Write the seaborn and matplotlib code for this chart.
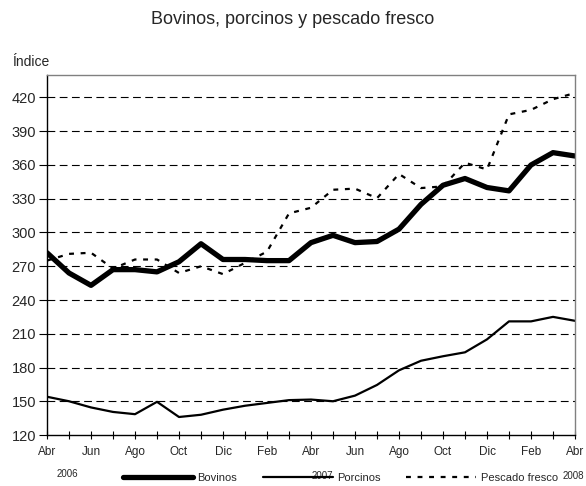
import matplotlib
matplotlib.use("Agg")
import matplotlib.pyplot as plt
import seaborn as sns
import pandas as pd
import numpy as np

months = ["Abr", "May", "Jun", "Jul", "Ago", "Sep", "Oct", "Nov", "Dic", "Ene", "Feb", "Mar",
          "Abr", "May", "Jun", "Jul", "Ago", "Sep", "Oct", "Nov", "Dic", "Ene", "Feb", "Mar", "Abr"]
tick_labels = ["Abr", "Jun", "Ago", "Oct", "Dic", "Feb", "Abr", "Jun", "Ago", "Oct", "Dic", "Feb", "Abr"]
years = ["2006", "2007", "2008"]

bovinos = [282, 264, 253, 267, 267, 265, 274, 290, 276, 276, 275, 275,
           291, 297.5, 291, 292, 303, 325, 342, 348, 340, 337, 360, 371, 368]
porcinos = [154, 150, 144.5, 140.5, 138.5, 149.5, 136, 138, 142.5, 146, 148.5, 151,
            151.5, 150, 155, 164.5, 177.5, 186, 190, 193.5, 205, 221, 221, 225, 221.5]
pescado = [275, 281, 282, 268, 276, 276, 264, 270, 263, 273, 283, 317,
           322, 338, 339, 330.5, 352, 339.5, 341, 362, 356, 405, 409, 418.5, 424]

series_names = ["Bovinos", "Porcinos", "Pescado fresco"]

df = pd.DataFrame({
    "t": list(range(len(months))) * 3,
    "valor": bovinos + porcinos + pescado,
    "serie": [series_names[0]] * 25 + [series_names[1]] * 25 + [series_names[2]] * 25,
})

sns.set_theme(style="white")
plt.rcParams["font.family"] = ["Liberation Sans", "DejaVu Sans"]

fig = plt.figure(figsize=(5.86, 4.86), dpi=100)
ax = fig.add_axes([47 / 586, 1 - 435 / 486, (575 - 47) / 586, (435 - 75) / 486])

for y in range(150, 421, 30):
    ax.axhline(y, color="black", lw=0.8, ls=(0, (7, 4)), zorder=0)

styles = {
    "Bovinos": dict(lw=3.8, ls="-"),
    "Porcinos": dict(lw=1.6, ls="-"),
    "Pescado fresco": dict(lw=1.6, ls=(0, (2.2, 3))),
}
for name in series_names:
    sub = df[df["serie"] == name]
    sns.lineplot(data=sub, x="t", y="valor", ax=ax, color="black", label=name,
                 **styles[name])

ax.set_xlim(0, 24)
ax.set_ylim(120, 440)
ax.set_yticks(range(120, 421, 30))
ax.set_xticks(range(0, 25, 2))
ax.set_xticklabels(tick_labels, fontsize=8.5)
ax.set_xticks(range(0, 25), minor=True)
ax.tick_params(axis="x", which="both", direction="inout", length=6, width=0.8, color="black",
               bottom=True, pad=5)
ax.tick_params(axis="y", direction="out", length=6, width=0.8, color="black", left=True,
               labelsize=10.5, pad=2)
ax.set_xlabel("")
ax.set_ylabel("")
for s in ["left", "bottom"]:
    ax.spines[s].set_color("black")
    ax.spines[s].set_linewidth(1.0)
for s in ["top", "right"]:
    ax.spines[s].set_color("#808080")
    ax.spines[s].set_linewidth(1.0)

ax.legend_.remove()
handles, labels = ax.get_legend_handles_labels()
fig.legend(handles, labels, loc="center left", bbox_to_anchor=(123 / 586, 1 - 478 / 486),
           ncol=3, frameon=False, fontsize=8, handlelength=6.3, columnspacing=2.3,
           handletextpad=0.4, borderpad=0, borderaxespad=0)

fig.text(293 / 586, 1 - 20 / 486, "Bovinos, porcinos y pescado fresco", ha="center",
         va="center", fontsize=13)
fig.text(12 / 586, 1 - 62 / 486, "Índice", ha="left", va="center", fontsize=10)
fig.text(67 / 586, 1 - 474 / 486, years[0], ha="center", va="center", fontsize=7)
fig.text(322 / 586, 1 - 476 / 486, years[1], ha="center", va="center", fontsize=7)
fig.text(573 / 586, 1 - 476 / 486, years[2], ha="center", va="center", fontsize=7)

fig.savefig("out.png", dpi=100, facecolor="white")
